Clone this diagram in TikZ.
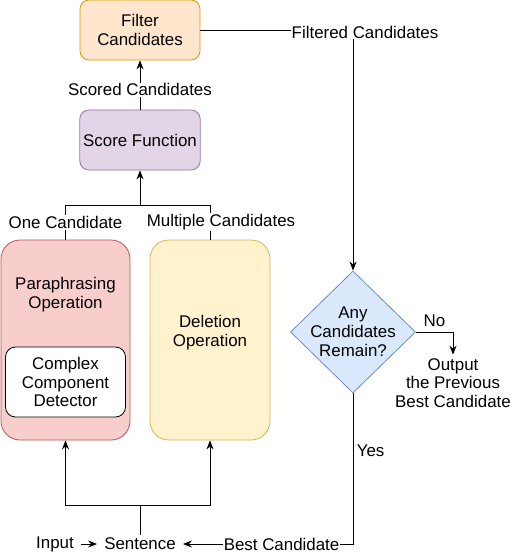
\documentclass[tikz,border=0pt]{standalone}
\usepackage{fontspec}
\setmainfont{Liberation Sans}
\usetikzlibrary{arrows.meta,shapes.geometric,positioning}
\definecolor{filterfill}{HTML}{FFE6CC}
\definecolor{filterdraw}{HTML}{D79B00}
\definecolor{scorefill}{HTML}{E1D5E7}
\definecolor{scoredraw}{HTML}{9673A6}
\definecolor{parafill}{HTML}{F8CECC}
\definecolor{paradraw}{HTML}{B85450}
\definecolor{delfill}{HTML}{FFF2CC}
\definecolor{deldraw}{HTML}{D6B656}
\definecolor{diafill}{HTML}{DAE8FC}
\definecolor{diadraw}{HTML}{6C8EBF}
\begin{document}
\begin{tikzpicture}[x=1pt,y=-1pt,
				every node/.style={font=\fontsize{16.9}{18.8}\selectfont, align=center},
				box/.style={draw, line width=0.8pt, rounded corners=9pt, minimum width=120pt, minimum height=60pt},
				opbox/.style={box, minimum height=200pt, rounded corners=19pt},
				term/.style={inner xsep=7pt, inner ysep=3pt},
				arr/.style={-{Stealth[length=9pt,width=7pt]}, line width=0.9pt},
				line/.style={line width=0.9pt},
				lbl/.style={fill=white, inner sep=1pt}]
\useasboundingbox (0,0) rectangle (521,556);
\node[box, fill=filterfill, draw=filterdraw] (filter) at (140,30) {Filter\\Candidates};
\node[box, fill=scorefill, draw=scoredraw] (score) at (140,140) {Score Function};
\node[opbox, fill=parafill, draw=paradraw, minimum width=129pt,
	label={[yshift=45pt]center:Paraphrasing\\Operation}] (para) at (65.5,340) {};
\node[box, fill=white, draw=black, minimum height=70pt, rounded corners=10pt] (detector) at (65.5,382) {Complex\\Component\\Detector};
\node[opbox, fill=delfill, draw=deldraw,
	label={[yshift=7pt]center:Deletion\\Operation}] (deletion) at (210,340) {};
\node[diamond, draw=diadraw, fill=diafill, line width=0.8pt, minimum width=125pt, minimum height=122pt, inner sep=0pt,
	label={center:Any\\Candidates\\Remain?}] (remain) at (353,332) {};
\node (output) at (453,383) {Output\\the Previous\\Best Candidate};
\node[term] (input) at (55,544) {Input};
\node[term] (sentence) at (140,544) {Sentence};
\coordinate (split) at (140,205);
\coordinate (join) at (140,505);

\draw[arr] (score) -- (filter) node[pos=0.4, lbl] {Scored Candidates};
\draw[arr] (split) -- (score.south);
\draw[line] (para.north) -- node[lbl] {One Candidate} (para.north |- split)
	-- (deletion.north |- split) -- node[lbl, xshift=11pt] {Multiple Candidates} (deletion.north);
\draw[arr] (filter.east) -| (remain.north) node[pos=0.5, lbl, xshift=12pt, yshift=-2pt] {Filtered Candidates};
\draw[arr] (remain.east) -| (output.north) node[pos=0.25, above, yshift=2pt] {No};
\draw[arr] (remain.south) |- (sentence.east)
	node[pos=0.19, right] {Yes}
	node[pos=0.71, lbl] {Best Candidate};
\draw[arr] (input) -- (sentence);
\draw[line] (sentence) -- (join);
\draw[arr] (join) -| (para.south);
\draw[arr] (join) -| (deletion.south);
\end{tikzpicture}
\end{document}
